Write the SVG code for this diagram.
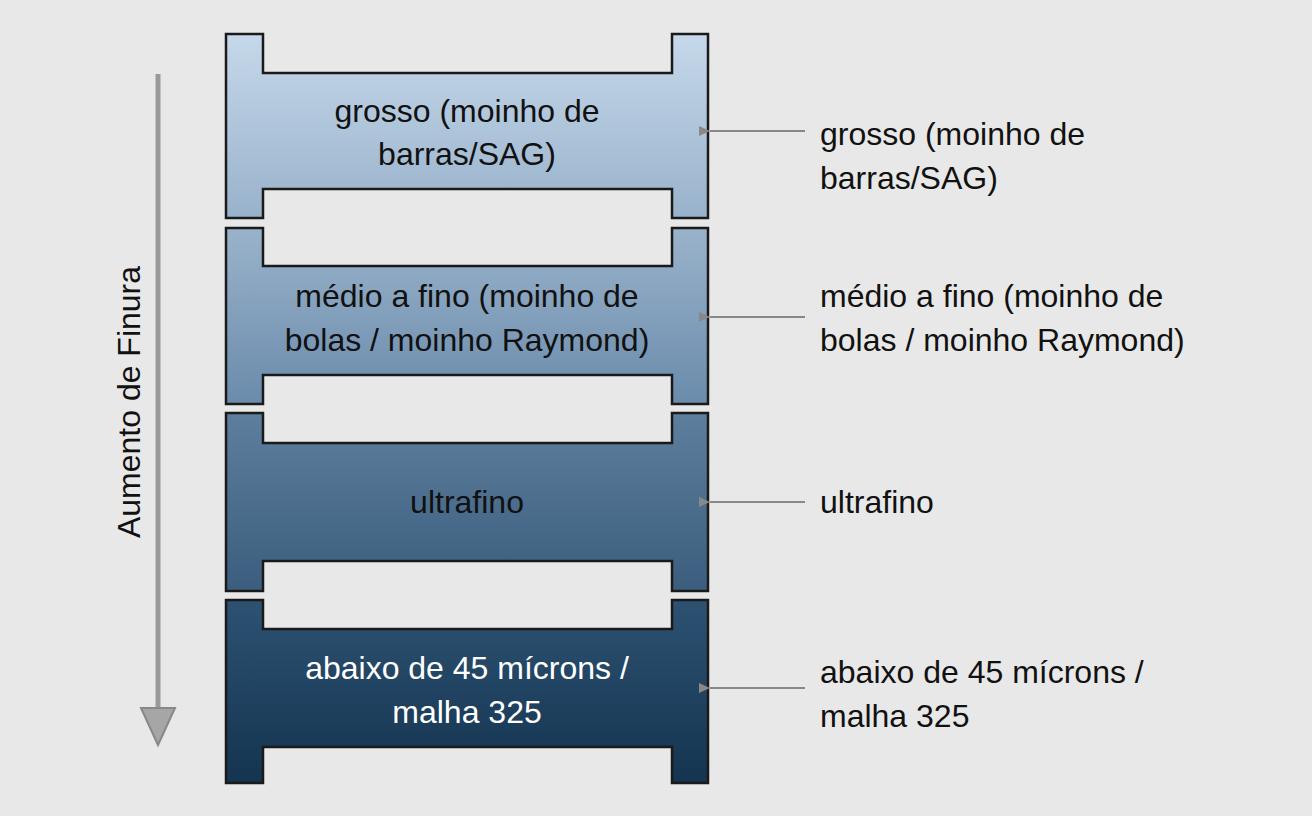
<svg xmlns="http://www.w3.org/2000/svg" width="1312" height="816" viewBox="0 0 1312 816">
<defs>
<linearGradient id="g1" x1="0" y1="0" x2="0" y2="1"><stop offset="0" stop-color="#c6d8ea"/><stop offset="1" stop-color="#98b2cb"/></linearGradient>
<linearGradient id="g2" x1="0" y1="0" x2="0" y2="1"><stop offset="0" stop-color="#9ab3cb"/><stop offset="1" stop-color="#6a8bab"/></linearGradient>
<linearGradient id="g3" x1="0" y1="0" x2="0" y2="1"><stop offset="0" stop-color="#5e7e9d"/><stop offset="1" stop-color="#3b5e7e"/></linearGradient>
<linearGradient id="g4" x1="0" y1="0" x2="0" y2="1"><stop offset="0" stop-color="#2d5272"/><stop offset="1" stop-color="#143450"/></linearGradient>
<marker id="ah" markerWidth="12" markerHeight="12" refX="1" refY="6" orient="auto" markerUnits="userSpaceOnUse"><path d="M12,1 L1,6 L12,11 Z" fill="#888"/></marker>
</defs>
<style>
.blk{stroke:#1a1a1a;stroke-width:2.5}
text{font-family:"Liberation Sans",Arial,sans-serif;font-size:32px}
.c{text-anchor:middle}
.con{stroke:#888;stroke-width:2;fill:none}
</style>
<rect width="1312" height="816" fill="#e8e8e8"/>
<g id="axis">
<line x1="158" y1="74" x2="158" y2="712" stroke="#999" stroke-width="5"/>
<path d="M141,708 L175,708 L158,745 Z" fill="#a6a6a6" stroke="#888" stroke-width="2"/>
<text transform="translate(140,402) rotate(-90)" class="c" fill="#111">Aumento de Finura</text>
</g>
<g id="n1"><path class="blk" fill="url(#g1)" d="M226,34 H263 V73 H672 V34 H708 V218 H672 V189 H263 V218 H226 Z"/>
<text class="c" x="467" y="122" fill="#111">grosso (moinho de</text><text class="c" x="467" y="165" fill="#111">barras/SAG)</text></g>
<g id="n2"><path class="blk" fill="url(#g2)" d="M226,228 H263 V266 H672 V228 H708 V404 H672 V375 H263 V404 H226 Z"/>
<text class="c" x="467" y="307" fill="#111">médio a fino (moinho de</text><text class="c" x="467" y="351" fill="#111">bolas / moinho Raymond)</text></g>
<g id="n3"><path class="blk" fill="url(#g3)" d="M226,413 H263 V443 H672 V413 H708 V591 H672 V561 H263 V591 H226 Z"/>
<text class="c" x="467" y="513" fill="#111">ultrafino</text></g>
<g id="n4"><path class="blk" fill="url(#g4)" d="M226,600 H263 V629 H672 V600 H708 V783 H672 V747 H263 V783 H226 Z"/>
<text class="c" x="467" y="679" fill="#fff">abaixo de 45 mícrons /</text><text class="c" x="467" y="723" fill="#fff">malha 325</text></g>
<g id="connectors">
<line class="con" x1="805" y1="131" x2="710" y2="131" marker-end="url(#ah)"/>
<line class="con" x1="805" y1="317" x2="710" y2="317" marker-end="url(#ah)"/>
<line class="con" x1="805" y1="502" x2="710" y2="502" marker-end="url(#ah)"/>
<line class="con" x1="805" y1="688" x2="710" y2="688" marker-end="url(#ah)"/>
</g>
<g id="labels" fill="#111">
<text x="820" y="145">grosso (moinho de</text><text x="820" y="189">barras/SAG)</text>
<text x="820" y="307">médio a fino (moinho de</text><text x="820" y="351">bolas / moinho Raymond)</text>
<text x="820" y="513">ultrafino</text>
<text x="820" y="683">abaixo de 45 mícrons /</text><text x="820" y="727">malha 325</text>
</g>
</svg>
